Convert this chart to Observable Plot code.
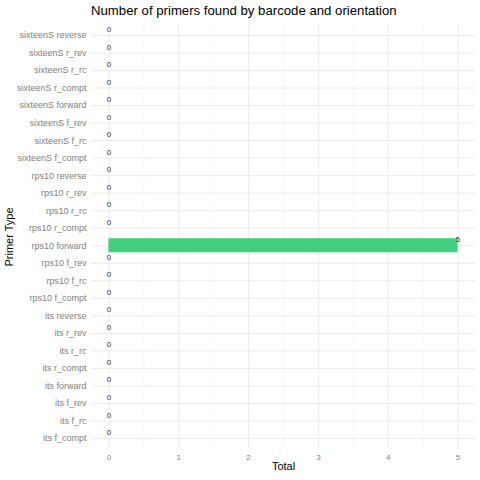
<!DOCTYPE html>
<html><head><meta charset="utf-8">
<script src="https://cdn.jsdelivr.net/npm/d3@7"></script>
<script src="https://cdn.jsdelivr.net/npm/@observablehq/plot@0.6"></script>
<style>
body{margin:0;background:#fff;font-family:"Liberation Sans",Arial,sans-serif;}
#title{height:20px;line-height:21px;font-size:13.2px;color:#000;text-align:left;padding-left:91px;box-sizing:border-box;width:480px;}
svg g[aria-label="x-axis label"] text, svg g[aria-label="y-axis label"] text{font-size:11px !important;fill:#000 !important;}
svg g[aria-label="x-axis tick label"], svg g[aria-label="y-axis tick label"]{fill:#808080;}
</style></head><body>
<div id="title">Number of primers found by barcode and orientation</div>
<div id="chart"></div>
<script>
const primerTypes = [
  "sixteenS reverse","sixteenS r_rev","sixteenS r_rc","sixteenS r_compt",
  "sixteenS forward","sixteenS f_rev","sixteenS f_rc","sixteenS f_compt",
  "rps10 reverse","rps10 r_rev","rps10 r_rc","rps10 r_compt",
  "rps10 forward","rps10 f_rev","rps10 f_rc","rps10 f_compt",
  "its reverse","its r_rev","its r_rc","its r_compt",
  "its forward","its f_rev","its f_rc","its f_compt"
];
const totals = [0,0,0,0, 0,0,0,0, 0,0,0,0, 5,0,0,0, 0,0,0,0, 0,0,0,0];
const xTicks = [0,1,2,3,4,5];
const xMinor = [0.5,1.5,2.5,3.5,4.5];

const data = primerTypes.map((p,i)=>({type:p,total:totals[i]}));

const chart = Plot.plot({
  width:480, height:460,
  marginLeft:91, marginRight:5, marginTop:4.5, marginBottom:31.5,
  style:{fontFamily:"Liberation Sans, Arial, sans-serif", fontSize:"9px", background:"#fff"},
  x:{domain:[-0.25,5.25]},
  y:{domain:primerTypes, padding:0.2, round:false},
  marks:[
    Plot.ruleX(xMinor,{stroke:"#f2f2f2",strokeWidth:0.6}),
    Plot.ruleX(xTicks,{stroke:"#ebebeb",strokeWidth:1}),
    Plot.tickY(primerTypes,{y:d=>d,stroke:"#ebebeb",strokeWidth:1}),
    Plot.barX(data,{y:"type",x:"total",fill:"#43cd80"}),
    Plot.text(data,{y:"type",x:"total",text:d=>String(d.total),dy:-6,fontSize:8,fill:"#333"}),
    Plot.axisX({ticks:xTicks,tickFormat:d3.format("d"),tickSize:0,tickPadding:5,fontSize:8,label:"Total",labelAnchor:"center",labelOffset:21,labelArrow:"none"}),
    Plot.axisY({tickSize:0,tickPadding:5,label:"Primer Type",labelAnchor:"center",labelOffset:86})
  ]
});
document.getElementById("chart").appendChild(chart);
</script>
</body></html>
